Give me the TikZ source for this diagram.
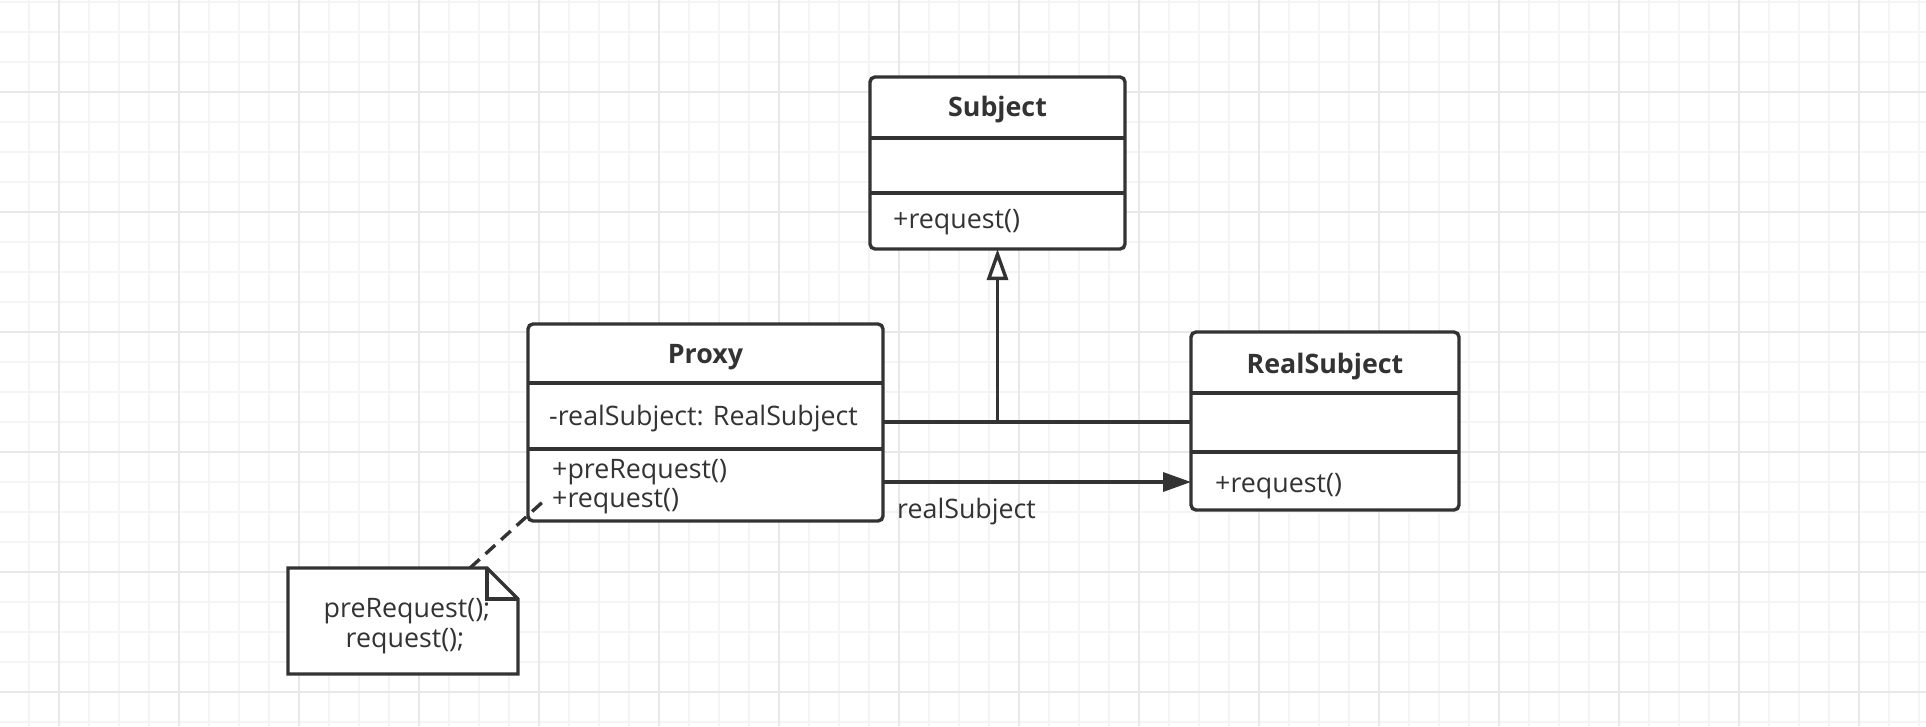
\documentclass[tikz,border=0pt]{standalone}
\usepackage{fontspec}
\setmainfont{Open Sans}
\usetikzlibrary{arrows.meta}
\definecolor{ink}{HTML}{333333}
\definecolor{gridminor}{HTML}{F4F4F4}
\definecolor{gridmajor}{HTML}{E8E8E8}
\begin{document}
\begin{tikzpicture}[x=1pt,y=-1pt,
  classbox/.style={draw=ink, line width=3.4pt, rounded corners=5pt, fill=white, inner sep=0pt, outer sep=0pt, rectangle},
  txt/.style={text=ink, inner sep=0pt, font=\fontsize{26.8}{32}\selectfont},
  btxt/.style={text=ink, inner sep=0pt, font=\fontsize{26.8}{32}\selectfont\bfseries},
  conn/.style={draw=ink, line width=3.4pt},
  divider/.style={draw=ink, line width=3.4pt},
  minorline/.style={draw=gridminor, line width=1.5pt},
  majorline/.style={draw=gridmajor, line width=1.5pt}]
\useasboundingbox (0,0) rectangle (1926,726);
\fill[white] (0,0) rectangle (1926,726);
% grid
\foreach \x in {29,59,...,1919} \draw[minorline] (\x,0) -- (\x,726);
\foreach \y in {2,32,...,722} \draw[minorline] (0,\y) -- (1926,\y);
\foreach \x in {59,179,...,1919} \draw[majorline] (\x,0) -- (\x,726);
\foreach \y in {92,212,...,692} \draw[majorline] (0,\y) -- (1926,\y);

% class boxes
\node[classbox, minimum width=255pt, minimum height=172pt] (subj) at (997.5,163) {};
\node[classbox, minimum width=355pt, minimum height=197pt] (proxy) at (705.5,422.5) {};
\node[classbox, minimum width=268pt, minimum height=178pt] (real) at (1325,421) {};

% compartments
\draw[divider] (subj.west |- 0,138) -- (subj.east |- 0,138);
\draw[divider] (subj.west |- 0,193) -- (subj.east |- 0,193);
\draw[divider] (proxy.west |- 0,383) -- (proxy.east |- 0,383);
\draw[divider] (proxy.west |- 0,449) -- (proxy.east |- 0,449);
\draw[divider] (real.west |- 0,393) -- (real.east |- 0,393);
\draw[divider] (real.west |- 0,452) -- (real.east |- 0,452);

% texts
\node[btxt, anchor=base] (subjT) at (997.5,116) {Subject};
\node[txt, anchor=base west] (subjM) at (893,228) {+request()};
\node[btxt, anchor=base] (proxyT) at (705.5,363) {Proxy};
\node[txt, anchor=base west] (proxyA) at (549,425) {-realSubject: RealSubject};
\node[txt, anchor=base west] (proxyM1) at (552,478) {+preRequest()};
\node[txt, anchor=base west] (proxyM2) at (552,507) {+request()};
\node[btxt, anchor=base] (realT) at (1325,373) {RealSubject};
\node[txt, anchor=base west] (realM) at (1215,492) {+request()};

% connectors
\coordinate (junc) at (subj.south |- 0,422);
\draw[conn] (proxy.east |- 0,422) -- (real.west |- 0,422);
\draw[conn, -{Triangle[fill=white, length=31pt, width=21pt]}] (junc) -- (subj.south);
\draw[conn, -{Triangle[length=28pt, width=19pt]}] (proxy.east |- 0,482) -- (real.west |- 0,482);
\node[txt, anchor=base west] (lbl) at (897,518) {realSubject};

% note
\node[inner sep=0pt, outer sep=0pt, minimum width=230pt, minimum height=106pt] (notebox) at (403,621) {};
\coordinate (dashend) at (547,498);
\draw[conn, dash pattern=on 13pt off 8pt] ([xshift=67pt]notebox.north) -- (dashend);
\fill[white] (notebox.north west) -- ([xshift=-31pt]notebox.north east) -- ([yshift=-31pt]notebox.north east) -- (notebox.south east) -- (notebox.south west) -- cycle;
\node[txt, anchor=base] (note1) at (407,617) {preRequest();};
\node[txt, anchor=base] (note2) at (405,647) {request();};
\draw[conn, line join=miter] (notebox.north west) -- ([xshift=-31pt]notebox.north east) -- ([yshift=-31pt]notebox.north east) -- (notebox.south east) -- (notebox.south west) -- cycle;
\draw[conn, line join=miter] ([xshift=-31pt]notebox.north east) -- ([xshift=-31pt,yshift=-31pt]notebox.north east) -- ([yshift=-31pt]notebox.north east);
\end{tikzpicture}
\end{document}
